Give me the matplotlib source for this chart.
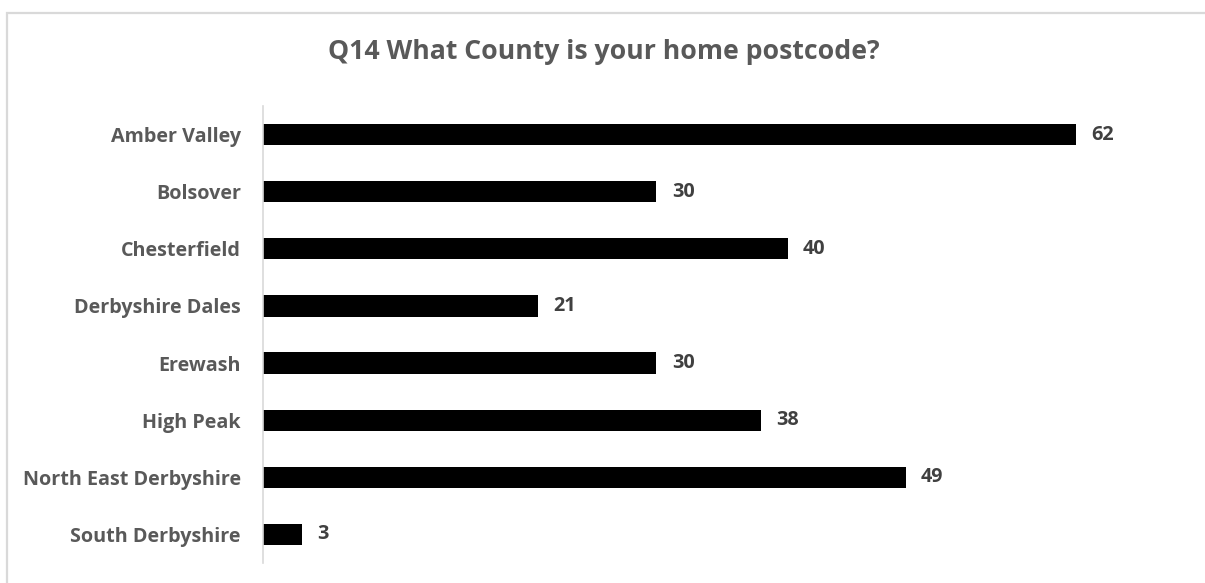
import matplotlib.pyplot as plt
from matplotlib.patches import Rectangle

plt.rcParams['font.family'] = ['Open Sans', 'DejaVu Sans']

districts = ['Amber Valley', 'Bolsover', 'Chesterfield', 'Derbyshire Dales',
             'Erewash', 'High Peak', 'North East Derbyshire', 'South Derbyshire']
counts = [62, 30, 40, 21, 30, 38, 49, 3]

W, H = 1205, 583
fig = plt.figure(figsize=(W / 100, H / 100), dpi=100)
ax = fig.add_axes([263 / W, 1 - 563 / H, (1181 - 263) / W, (563 - 106) / H])

pos = list(range(len(districts)))
bars = ax.barh(pos, counts, height=0.37, color='black')
ax.set_ylim(len(districts) - 0.5, -0.5)
ax.set_xlim(0, 70)

ax.set_yticks(pos)
ax.set_yticklabels(districts, fontsize=14.2, fontweight='bold', color='#595959')
ax.tick_params(axis='y', length=0, pad=16)
ax.set_xticks([])

for s in ['top', 'right', 'bottom']:
    ax.spines[s].set_visible(False)
ax.spines['left'].set_color('#d9d9d9')
ax.spines['left'].set_linewidth(1.2)

for b, v in zip(bars, counts):
    ax.annotate(str(v), (v, b.get_y() + b.get_height() / 2), xytext=(11, 0),
                textcoords='offset points', va='center', ha='left',
                fontsize=14.2, fontweight='bold', color='#404040')

fig.text(604 / W, 1 - 52 / H, 'Q14 What County is your home postcode?', ha='center',
         va='center', fontsize=19.2, fontweight='bold', color='#595959')

# chart frame, clipped at the right and bottom edges
fig.patches.append(Rectangle((7.5 / W, -0.1), 1.2, 1.1 - 13.5 / H,
                             transform=fig.transFigure, fill=False,
                             edgecolor='#d9d9d9', linewidth=1.6))

fig.savefig('out.png', dpi=100)
